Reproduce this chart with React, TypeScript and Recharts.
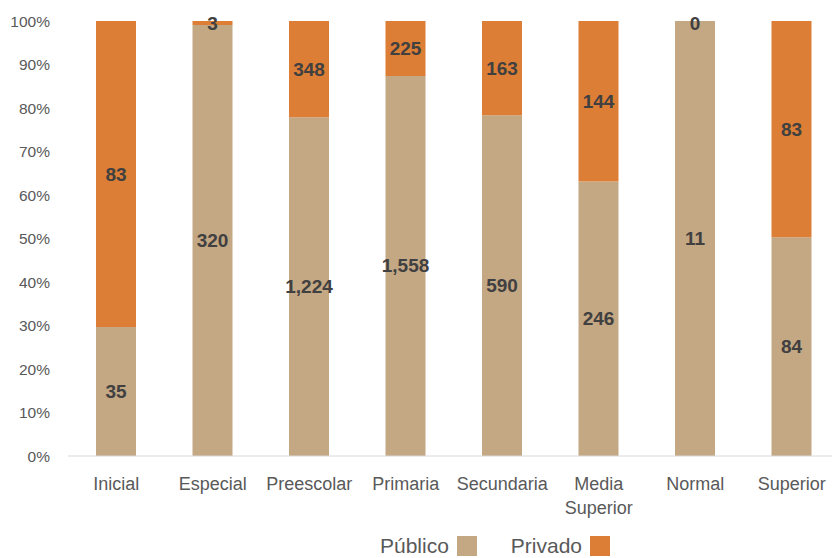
import React from 'react';
import { BarChart, Bar, XAxis, YAxis, LabelList, Legend } from 'recharts';

const categories = ['Inicial', 'Especial', 'Preescolar', 'Primaria', 'Secundaria', 'Media Superior', 'Normal', 'Superior'];
const publico = [35, 320, 1224, 1558, 590, 246, 11, 84];
const privado = [83, 3, 348, 225, 163, 144, 0, 83];
const yTicks = [0, 0.1, 0.2, 0.3, 0.4, 0.5, 0.6, 0.7, 0.8, 0.9, 1];

const COLORS = { publico: '#C4A783', privado: '#DC7E35' };
const FONT = '"Liberation Sans", Arial, sans-serif';
const LABEL_COLOR = '#404040';

const data = categories.map((name, i) => ({
  name,
  publico: publico[i],
  privado: privado[i],
}));

const fmt = (v: any) => Number(v).toLocaleString('en-US');

function XTick({ x, y, payload }: any) {
  const lines = String(payload.value).split(' ');
  return (
    <text x={x} y={y} textAnchor="middle" fill="#595959" fontSize={18} fontFamily={FONT}>
      {lines.map((line, i) => (
        <tspan key={i} x={x} dy={i === 0 ? 26 : 24}>
          {line}
        </tspan>
      ))}
    </text>
  );
}

// label for the público segment; also writes the privado value at the top
// when the privado segment has zero height (recharts skips that one)
function PublicoLabel(props: any) {
  const { viewBox, value, index } = props;
  const { x, y, width, height } = viewBox || props;
  const cx = x + width / 2;
  const zeroPriv = privado[index] === 0;
  return (
    <g>
      <text x={cx} y={y + height / 2} textAnchor="middle" dominantBaseline="central" fill={LABEL_COLOR} fontSize={19} fontWeight="bold" fontFamily={FONT}>
        {fmt(value)}
      </text>
      {zeroPriv && (
        <text x={cx} y={y + 2} textAnchor="middle" dominantBaseline="central" fill={LABEL_COLOR} fontSize={19} fontWeight="bold" fontFamily={FONT}>
          {fmt(privado[index])}
        </text>
      )}
    </g>
  );
}

function LegendContent() {
  const items = [
    { label: 'Público', color: COLORS.publico },
    { label: 'Privado', color: COLORS.privado },
  ];
  return (
    <div style={{ display: 'flex', justifyContent: 'center', alignItems: 'center', fontFamily: FONT, fontSize: 21, color: '#595959', paddingLeft: 150, height: 24 }}>
      {items.map((it) => (
        <div key={it.label} style={{ display: 'flex', alignItems: 'center', margin: '0 17px' }}>
          <span>{it.label}</span>
          <span style={{ display: 'inline-block', width: 20, height: 20, background: it.color, marginLeft: 8 }} />
        </div>
      ))}
    </div>
  );
}

export default function App() {
  return (
    <div style={{ position: 'fixed', left: 0, top: 0, width: 832, height: 558, overflow: 'hidden', background: '#fff' }}>
      <BarChart
        width={840}
        height={558}
        data={data}
        stackOffset="expand"
        margin={{ top: 21, right: 0, bottom: 0, left: 0 }}
        barSize={40}
      >
        <YAxis
          width={68}
          domain={[0, 1]}
          ticks={yTicks}
          tickFormatter={(v) => `${Math.round(v * 100)}%`}
          axisLine={false}
          tickLine={false}
          tickSize={0}
          tickMargin={18}
          tick={{ fill: '#595959', fontSize: 15.5, fontFamily: FONT }}
        />
        <XAxis
          dataKey="name"
          interval={0}
          height={78}
          axisLine={{ stroke: '#D9D9D9' }}
          tickLine={false}
          tick={<XTick />}
        />
        <Legend verticalAlign="bottom" height={24} content={<LegendContent />} />
        <Bar dataKey="publico" stackId="a" fill={COLORS.publico} isAnimationActive={false}>
          <LabelList dataKey="publico" content={<PublicoLabel />} />
        </Bar>
        <Bar dataKey="privado" stackId="a" fill={COLORS.privado} isAnimationActive={false}>
          <LabelList dataKey="privado" position="center" formatter={fmt} fill={LABEL_COLOR} fontSize={19} fontWeight="bold" fontFamily={FONT} />
        </Bar>
      </BarChart>
    </div>
  );
}
